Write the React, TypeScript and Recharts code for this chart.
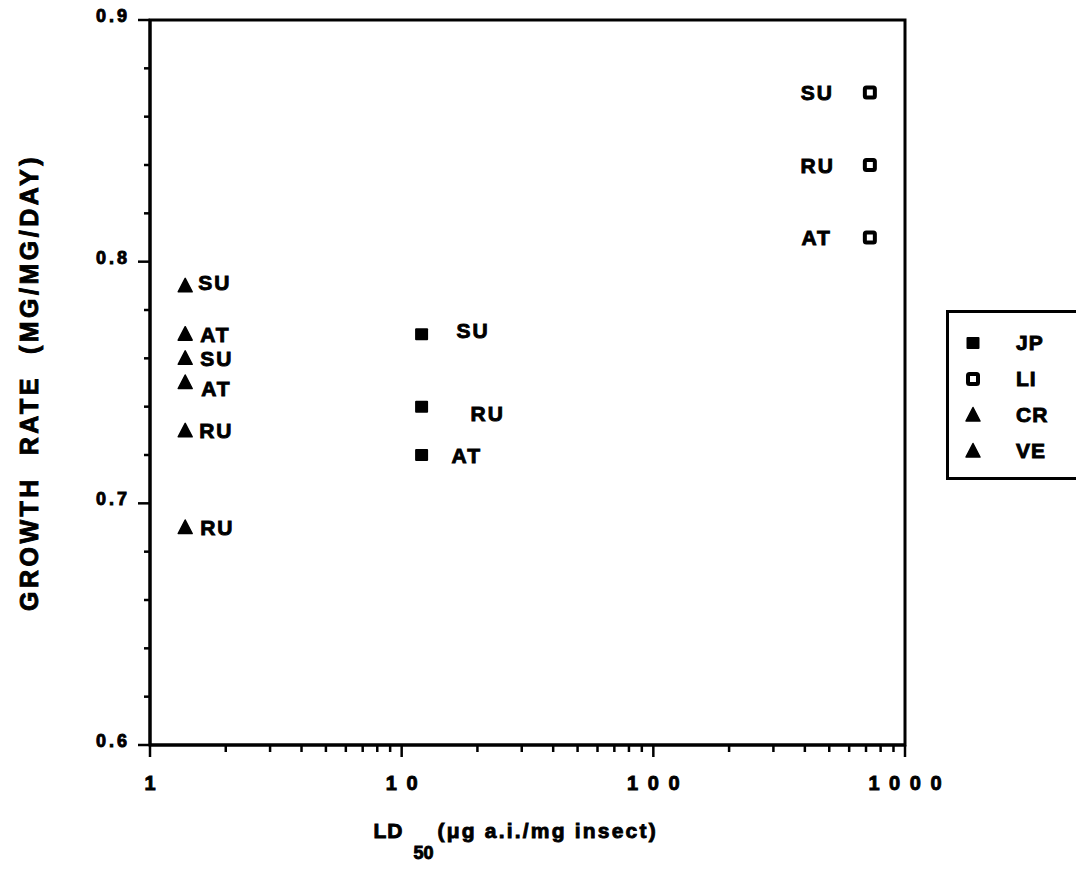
import React from 'react'
import { ScatterChart, Scatter, XAxis, YAxis, ReferenceArea, Legend } from 'recharts'

// growth rate (mg/mg/day) vs LD50 (ug a.i./mg insect)
const jpPoints = [
  { ld50: 12, growth: 0.77, site: 'SU' },
  { ld50: 12, growth: 0.74, site: 'RU' },
  { ld50: 12, growth: 0.72, site: 'AT' },
]
const liPoints = [
  { ld50: 725, growth: 0.87, site: 'SU' },
  { ld50: 725, growth: 0.84, site: 'RU' },
  { ld50: 725, growth: 0.81, site: 'AT' },
]
const crPoints = [
  { ld50: 1.38, growth: 0.79, site: 'SU' },
  { ld50: 1.38, growth: 0.77, site: 'AT' },
  { ld50: 1.38, growth: 0.73, site: 'RU' },
]
const vePoints = [
  { ld50: 1.38, growth: 0.76, site: 'SU' },
  { ld50: 1.38, growth: 0.75, site: 'AT' },
  { ld50: 1.38, growth: 0.69, site: 'RU' },
]

const xTicks = [
  1, 2, 3, 4, 5, 6, 7, 8, 9,
  10, 20, 30, 40, 50, 60, 70, 80, 90,
  100, 200, 300, 400, 500, 600, 700, 800, 900,
  1000,
]
const xMajor = [1, 10, 100, 1000]
const xTickLabels = ['1', '1 0', '1 0 0', '1 0 0 0']

const yTicks = [
  0.6, 0.62, 0.64, 0.66, 0.68, 0.7, 0.72, 0.74, 0.76, 0.78,
  0.8, 0.82, 0.84, 0.86, 0.88, 0.9,
]
const yMajor = [0.6, 0.7, 0.8, 0.9]

const FONT = '"Liberation Sans", Arial, Helvetica, sans-serif'
// the scanned lettering is heavier than any bold face we have, so outline it a little
const HEAVY = { fontFamily: FONT, fontWeight: 'bold' as const, fill: '#000', stroke: '#000', strokeWidth: 0.9 }

// where each point's site label sits relative to its marker
const LABEL_OFFSETS: Record<string, Record<string, [number, number]>> = {
  JP: { SU: [35, -4], RU: [49, 7], AT: [30, 0] },
  LI: { SU: [-36, 0], RU: [-35, 0], AT: [-38, 0] },
  CR: { SU: [13, -3], AT: [15, 0], RU: [14, 0] },
  VE: { SU: [15, 0], AT: [16, 6], RU: [15, 0] },
}

function Marker({ kind, cx, cy }: { kind: string; cx: number; cy: number }) {
  if (kind === 'filled') {
    return <rect x={cx - 6.5} y={cy - 6} width={13} height={12} rx={1} fill="#000" />
  }
  if (kind === 'open') {
    return (
      <rect x={cx - 5} y={cy - 5} width={10} height={10} rx={1.5} fill="#fff" stroke="#000" strokeWidth={4} />
    )
  }
  return (
    <path
      d={`M${cx},${cy - 7.5} L${cx + 7},${cy + 6} L${cx - 7},${cy + 6} Z`}
      fill="#000"
      stroke="#000"
      strokeWidth={1.5}
      strokeLinejoin="round"
    />
  )
}

const SERIES = [
  { name: 'JP', kind: 'filled', data: jpPoints },
  { name: 'LI', kind: 'open', data: liPoints },
  { name: 'CR', kind: 'triangle', data: crPoints },
  { name: 'VE', kind: 'triangle', data: vePoints },
]

const makeShape = (series: string, kind: string) => (props: any) => {
  const { cx, cy, payload } = props
  if (cx == null || cy == null) return <g />
  const [dx, dy] = LABEL_OFFSETS[series][payload.site] || [14, 0]
  return (
    <g>
      <Marker kind={kind} cx={cx} cy={cy} />
      <text
        x={cx + dx}
        y={cy + dy}
        textAnchor={dx < 0 ? 'end' : 'start'}
        dominantBaseline="central"
        fontSize={21}
        letterSpacing={2}
        {...HEAVY}
      >
        {payload.site}
      </text>
    </g>
  )
}

const XTick = (props: any) => {
  const { x, y, payload } = props
  const idx = xMajor.indexOf(payload.value)
  const major = idx >= 0
  return (
    <g>
      <line x1={x} x2={x} y1={y} y2={y + (major ? 12 : 7)} stroke="#000" strokeWidth={2.5} />
      {major && (
        <text x={x + 1} y={y + 45} textAnchor="middle" fontSize={20} letterSpacing={2} {...HEAVY}>
          {xTickLabels[idx]}
        </text>
      )}
    </g>
  )
}

const YTick = (props: any) => {
  const { x, y, payload } = props
  const major = yMajor.some((m) => Math.abs(m - payload.value) < 1e-6)
  return (
    <g>
      <line x1={x} x2={x - (major ? 12 : 6)} y1={y} y2={y} stroke="#000" strokeWidth={2.5} />
      {major && (
        <text x={x - 20} y={y + 2} textAnchor="end" fontSize={18} letterSpacing={3} {...HEAVY}>
          {payload.value.toFixed(1)}
        </text>
      )}
    </g>
  )
}

const XTitle = (props: any) => {
  const vb = props.viewBox || { x: 150, y: 745, width: 755 }
  const left = vb.x + vb.width / 2 - 154
  const base = vb.y + 93
  return (
    <text x={left} y={base} fontSize={21} {...HEAVY}>
      <tspan letterSpacing={1}>LD</tspan>
      <tspan x={left + 40} y={base + 21} fontSize={18}>50</tspan>
      <tspan x={left + 64} y={base} letterSpacing={2.2}>(μg a.i./mg insect)</tspan>
    </text>
  )
}

const YTitle = (props: any) => {
  const vb = props.viewBox || { x: 0, y: 20, height: 725 }
  const cx = 29
  const cy = vb.y + vb.height / 2
  return (
    <text
      x={cx}
      y={cy}
      transform={`rotate(-90 ${cx} ${cy})`}
      textAnchor="middle"
      dominantBaseline="central"
      fontSize={25}
      letterSpacing={3.5}
      style={{ whiteSpace: 'pre' }}
      {...HEAVY}
    >
      {'GROWTH  RATE  (MG/MG/DAY)'}
    </text>
  )
}

const LegendBox = () => (
  <div
    style={{
      position: 'relative',
      boxSizing: 'border-box',
      width: 130,
      height: 170,
      borderTop: '3px solid #000',
      borderLeft: '3px solid #000',
      borderBottom: '3px solid #000',
      background: '#fff',
    }}
  >
    {SERIES.map((s, i) => (
      <div
        key={s.name}
        style={{ position: 'absolute', left: 0, top: 16 + i * 36, height: 28, display: 'flex', alignItems: 'center' }}
      >
        <svg width={50} height={28} style={{ display: 'block' }}>
          <Marker kind={s.kind} cx={24} cy={14} />
        </svg>
        <span
          style={{
            marginLeft: 17,
            fontFamily: FONT,
            fontWeight: 'bold',
            fontSize: 21,
            letterSpacing: 1,
            lineHeight: '28px',
            WebkitTextStroke: '0.9px #000',
          }}
        >
          {s.name}
        </span>
      </div>
    ))}
  </div>
)

export default function App() {
  return (
    <div style={{ position: 'absolute', left: 0, top: 0, width: 1076, height: 871, background: '#fff' }}>
      <ScatterChart width={1076} height={871} margin={{ top: 20, right: 171, bottom: 0, left: 0 }}>
        <XAxis
          type="number"
          dataKey="ld50"
          scale="log"
          domain={[1, 1000]}
          ticks={xTicks}
          interval={0}
          allowDataOverflow
          height={126}
          tickSize={0}
          tickMargin={0}
          tickLine={false}
          tick={<XTick />}
          axisLine={{ stroke: '#000', strokeWidth: 3 }}
          label={<XTitle />}
        />
        <YAxis
          type="number"
          dataKey="growth"
          domain={[0.6, 0.9]}
          ticks={yTicks}
          interval={0}
          allowDataOverflow
          width={150}
          tickSize={0}
          tickMargin={0}
          tickLine={false}
          tick={<YTick />}
          axisLine={{ stroke: '#000', strokeWidth: 3 }}
          label={<YTitle />}
        />
        <ReferenceArea x1={1} x2={1000} y1={0.6} y2={0.9} fill="none" stroke="#000" strokeWidth={3} />
        {SERIES.map((s) => (
          <Scatter
            key={s.name}
            name={s.name}
            data={s.data}
            fill="#000"
            isAnimationActive={false}
            shape={makeShape(s.name, s.kind)}
          />
        ))}
        <Legend
          layout="vertical"
          align="center"
          verticalAlign="middle"
          content={() => <LegendBox />}
          wrapperStyle={{ left: 946, top: 310, width: 130, height: 170 }}
        />
      </ScatterChart>
    </div>
  )
}
